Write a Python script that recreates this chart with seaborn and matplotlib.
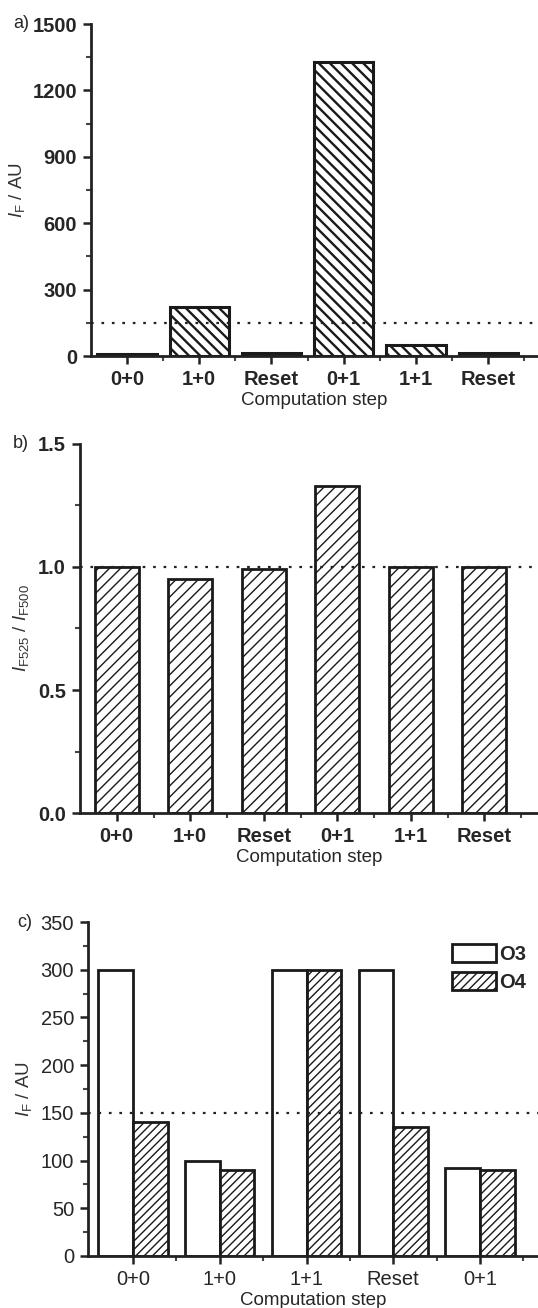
import matplotlib
matplotlib.use('Agg')
import matplotlib.pyplot as plt
import matplotlib.patches as mpatches
from matplotlib.ticker import MultipleLocator
import pandas as pd
import seaborn as sns

# Dados
steps_ab = ['0+0', '1+0', 'Reset', '0+1', '1+1', 'Reset']
intensity_a = [8, 222, 15, 1330, 50, 15]
ratio_b = [1.0, 0.95, 0.99, 1.33, 1.0, 1.0]

steps_c = ['0+0', '1+0', '1+1', 'Reset', '0+1']
o3_c = [300, 100, 300, 300, 92]
o4_c = [140, 90, 300, 135, 90]

sns.set_style('ticks')
plt.rcParams['font.family'] = ['Liberation Sans', 'DejaVu Sans']
plt.rcParams['mathtext.fontset'] = 'custom'
plt.rcParams['mathtext.it'] = 'Liberation Sans:italic'
plt.rcParams['mathtext.rm'] = 'Liberation Sans'
plt.rcParams['hatch.linewidth'] = 1.0
plt.rcParams['hatch.color'] = '#222222'


def style_axes(ax, bold=True):
    for s in ['top', 'right']:
        ax.spines[s].set_visible(False)
    for s in ['left', 'bottom']:
        ax.spines[s].set_linewidth(2)
        ax.spines[s].set_color('#222222')
    ax.tick_params(which='major', direction='out', length=6, width=1.8, color='#222222',
                   labelsize=14.5, pad=4)
    ax.tick_params(which='minor', direction='out', length=3.5, width=1.5, color='#444444')
    weight = 'bold' if bold else 'normal'
    for lab in ax.get_xticklabels() + ax.get_yticklabels():
        lab.set_fontweight(weight)


fig = plt.figure(figsize=(5.38, 13.08), dpi=100)

# a) intensidade
ax1 = fig.add_axes([0.169, 0.7278, 0.831, 0.2538])
idx = list(range(len(steps_ab)))
sns.barplot(x=idx, y=intensity_a, ax=ax1, color='white', edgecolor='#1a1a1a',
            linewidth=2.2, width=0.82, saturation=1)
for bar in ax1.patches:
    bar.set_hatch('\\\\\\')
    if hasattr(bar, 'set_hatch_linewidth'):
        bar.set_hatch_linewidth(1.7)
ax1.axhline(150, color='#222222', linestyle=(0, (1.2, 3.5)), linewidth=1.6, zorder=5)
ax1.set_xlim(-0.5, 5.69)
ax1.set_ylim(0, 1500)
ax1.set_yticks([0, 300, 600, 900, 1200, 1500])
ax1.yaxis.set_minor_locator(MultipleLocator(150))
ax1.set_xticks(idx, steps_ab)
ax1.set_xticks([i + 0.5 for i in idx], minor=True)
ax1.set_xlabel('Computation step', fontsize=13.5, labelpad=2)
ax1.set_ylabel(r'$I_{\mathrm{F}}$ / AU', fontsize=13.5, color='#333333', labelpad=4)
style_axes(ax1)
fig.text(0.024, 0.9817, 'a)', fontsize=13, va='center', ha='left')

# b) razão
ax2 = fig.add_axes([0.1487, 0.3784, 0.8513, 0.2822])
sns.barplot(x=idx, y=ratio_b, ax=ax2, color='white', edgecolor='#1a1a1a',
            linewidth=2, width=0.6, saturation=1)
for bar in ax2.patches:
    bar.set_hatch('///')
    if hasattr(bar, 'set_hatch_linewidth'):
        bar.set_hatch_linewidth(1.0)
ax2.axhline(1.0, color='#222222', linestyle=(0, (1.2, 3.5)), linewidth=1.6, zorder=5)
ax2.set_xlim(-0.5, 5.73)
ax2.set_ylim(0, 1.5)
ax2.set_yticks([0.0, 0.5, 1.0, 1.5])
ax2.yaxis.set_major_formatter(plt.FormatStrFormatter('%.1f'))
ax2.yaxis.set_minor_locator(MultipleLocator(0.25))
ax2.set_xticks(idx, steps_ab)
ax2.set_xticks([i + 0.5 for i in idx], minor=True)
ax2.set_xlabel('Computation step', fontsize=13.5, labelpad=2)
ax2.set_ylabel(r'$I_{\mathrm{F525}}$ / $I_{\mathrm{F500}}$', fontsize=13.5, color='#333333',
               labelpad=5)
style_axes(ax2)
fig.text(0.024, 0.6606, 'b)', fontsize=13, va='center', ha='left')

# c) O3 e O4
df_c = pd.DataFrame({
    'step': steps_c * 2,
    'value': o3_c + o4_c,
    'gate': ['O3'] * len(steps_c) + ['O4'] * len(steps_c),
})
ax3 = fig.add_axes([0.1636, 0.0398, 0.8364, 0.2553])
sns.barplot(data=df_c, x='step', y='value', hue='gate', order=steps_c,
            palette=['white', 'white'], edgecolor='#1a1a1a', linewidth=2,
            width=0.8, gap=0, saturation=1, ax=ax3, legend=False)
for bar in ax3.containers[1]:
    bar.set_hatch('////')
    if hasattr(bar, 'set_hatch_linewidth'):
        bar.set_hatch_linewidth(1.0)
ax3.axhline(150, color='#222222', linestyle=(0, (1.2, 3.5)), linewidth=1.6, zorder=5)
ax3.set_xlim(-0.52, 4.67)
ax3.set_ylim(0, 350)
ax3.set_yticks(range(0, 351, 50))
ax3.yaxis.set_minor_locator(MultipleLocator(25))
ax3.set_xticks(range(len(steps_c)), steps_c)
ax3.set_xticks([i + 0.5 for i in range(len(steps_c))], minor=True)
ax3.set_xlabel('Computation step', fontsize=13.5, labelpad=2)
ax3.set_ylabel(r'$I_{\mathrm{F}}$ / AU', fontsize=13.5, color='#333333', labelpad=5)
style_axes(ax3, bold=False)
handles = [mpatches.Patch(facecolor='white', edgecolor='#1a1a1a', linewidth=2, label='O3'),
           mpatches.Patch(facecolor='white', edgecolor='#1a1a1a', linewidth=2,
                          hatch='////', label='O4')]
leg = ax3.legend(handles=handles, loc='upper right', bbox_to_anchor=(1.0, 0.97),
                 frameon=False, handlelength=2.2, handleheight=1.0, handletextpad=0.15,
                 labelspacing=0.4, borderaxespad=0.2,
                 prop={'weight': 'bold', 'size': 14.5})
fig.text(0.032, 0.2951, 'c)', fontsize=13, va='center', ha='left')

fig.savefig('out.png', dpi=100)
